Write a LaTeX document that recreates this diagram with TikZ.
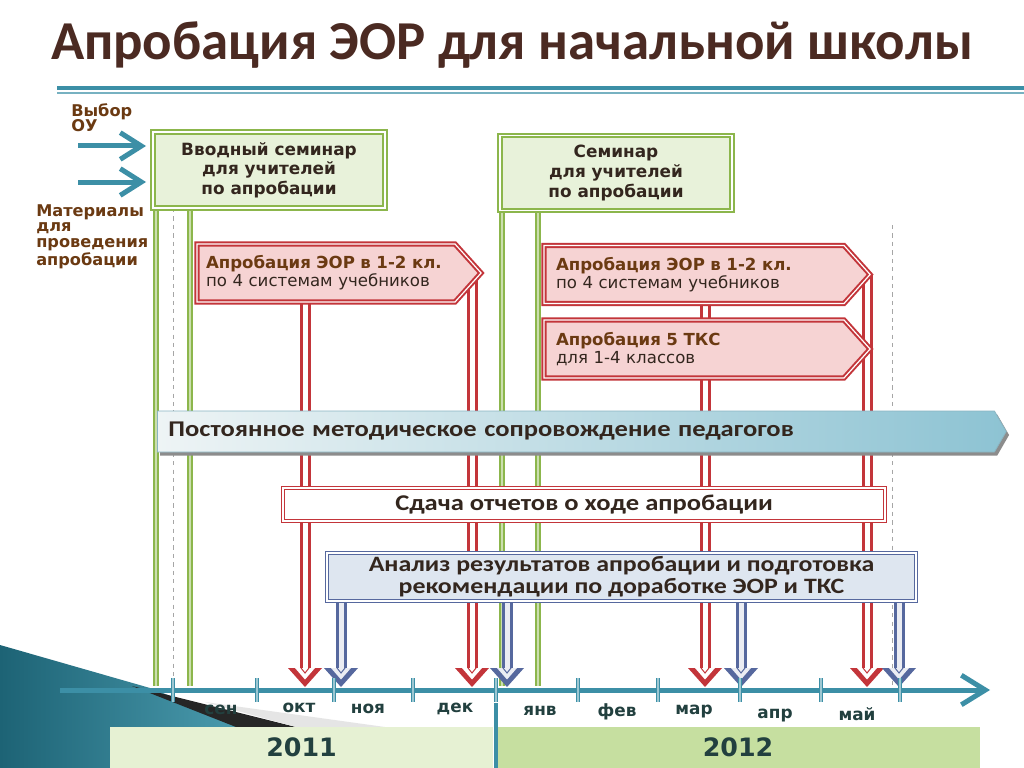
\documentclass[tikz,border=0pt]{standalone}
\usepackage{fontspec}
\setmainfont{DejaVu Sans}
\newfontfamily\titlefont{Carlito}
\newfontfamily\narrowfont[FakeStretch=1.18]{Carlito}
\usetikzlibrary{shapes.symbols,shadows,backgrounds,arrows.meta}

\newlength\pxu
\setlength\pxu{0.025cm}

\definecolor{titlebrown}{HTML}{4B2A22}
\definecolor{labelbrown}{HTML}{6B3A12}
\definecolor{darktext}{HTML}{33261E}
\definecolor{tealline}{HTML}{3C8FA6}
\definecolor{semgreen}{HTML}{8CB64C}
\definecolor{semfill}{HTML}{E8F2DA}
\definecolor{aprred}{HTML}{C3353A}
\definecolor{aprfill}{HTML}{F6D3D3}
\definecolor{anblue}{HTML}{56689E}
\definecolor{anfill}{HTML}{DEE6F0}
\definecolor{monthtext}{HTML}{22403F}
\definecolor{yearlight}{HTML}{E6F1D3}
\definecolor{yeardark}{HTML}{C6DFA0}
\definecolor{supleft}{HTML}{EEF4F5}
\definecolor{supright}{HTML}{8DC3D3}
\definecolor{swdark}{HTML}{1D6375}
\definecolor{swlight}{HTML}{4C9DB0}

\begin{document}
\begin{tikzpicture}[x=0.025cm,y=-0.025cm]
        \tikzstyle{seminar}=[rectangle,draw=semgreen,line width=2\pxu,double=white,double distance=1.2\pxu,fill=semfill,align=center,text=darktext,font=\bfseries\fontsize{12}{14}\selectfont,inner sep=0pt]
        \tikzstyle{aprob}=[signal,signal to=east,signal pointer angle=96,draw=aprred,line width=2\pxu,double=white,double distance=1.2\pxu,fill=aprfill,align=left,text=darktext,font=\fontsize{11.8}{12.8}\selectfont,inner xsep=12\pxu,inner ysep=0pt,minimum height=58\pxu,anchor=west]
        \tikzstyle{sidelabel}=[align=left,text=labelbrown,font=\bfseries\fontsize{11.5}{11.3}\selectfont,anchor=north west,inner sep=0pt]
        \tikzstyle{wide}=[text=darktext,font=\narrowfont\bfseries\fontsize{16}{14.2}\selectfont,inner sep=0pt]
        \tikzstyle{month}=[text=monthtext,font=\bfseries\fontsize{12}{12}\selectfont,inner sep=0pt]
        \tikzstyle{year}=[rectangle,minimum height=41\pxu,inner sep=0pt,text=monthtext,font=\bfseries\fontsize{18}{20}\selectfont]
        \tikzstyle{inarrow}=[draw=tealline,line width=5\pxu,-{Straight Barb[length=15pt,width=19pt]},shorten >=6\pxu]
        \tikzstyle{greenline}=[draw=semgreen,line width=2\pxu,double=semgreen!45!white,double distance=1.2\pxu]
        \tikzstyle{redpipe}=[draw=aprred,line width=3\pxu,double=white,double distance=5\pxu]
        \tikzstyle{bluepipe}=[draw=anblue,line width=3\pxu,double=anblue!12!white,double distance=5\pxu]
        \tikzstyle{guide}=[draw=gray!70,dashed,line width=0.9\pxu]
        \tikzstyle{tick}=[draw=tealline,line width=1.6\pxu,double=tealline!50!white,double distance=1.4\pxu]

        \useasboundingbox (0,0) rectangle (1024,768);

        % title and rule
        \node[text=titlebrown,font=\titlefont\bfseries\fontsize{39}{40}\selectfont,inner sep=0pt] (title) at (512,45) {Апробация ЭОР для начальной школы};
        \draw[tealline,line width=4\pxu] (57,88) -- (1024,88);
        \draw[tealline!70!white,line width=1.5\pxu] (57,93) -- (1024,93);

        % inputs on the left
        \node[sidelabel] (vybor) at (71,103) {Выбор\\ОУ};
        \node[sidelabel] (mater) at (36,204) {Материалы\\для\\проведения\\апробации};

        % seminars
        \node[seminar,minimum width=232\pxu,minimum height=76\pxu] (sem1) at (269,170) {Вводный семинар\\для учителей\\по апробации};
        \node[seminar,minimum width=232\pxu,minimum height=75\pxu] (sem2) at (616,173) {Семинар\\для учителей\\по апробации};

        \coordinate (in1) at (78,146);
        \coordinate (in2) at (78,182);
        \draw[inarrow] (in1) -- (sem1.west |- in1);
        \draw[inarrow] (in2) -- (sem1.west |- in2);

        % approbation stages
        \node[aprob,text width=240\pxu,inner xsep=9\pxu] (apr1) at (196,273) {{\bfseries\color{labelbrown}Апробация ЭОР в 1-2 кл.}\\по 4 системам учебников};
        \node[aprob,text width=276\pxu] (apr2) at (543,274.5) {{\bfseries\color{labelbrown}Апробация ЭОР в 1-2 кл.}\\по 4 системам учебников};
        \node[aprob,text width=276\pxu] (apr3) at (543,349) {{\bfseries\color{labelbrown}Апробация 5 ТКС}\\для 1-4 классов};

        % long banner, reports, analysis
        \node[wide,signal,signal to=east,signal pointer angle=120,left color=supleft,right color=supright,draw=supright!80!gray,line width=0.8\pxu,
              drop shadow={shadow xshift=2pt,shadow yshift=-2.5pt,fill=black!45,opacity=1},
              minimum height=41\pxu,text width=815\pxu,inner xsep=11\pxu,inner ysep=0pt,align=left,anchor=west] (support) at (157,431.5)
              {Постоянное методическое сопровождение педагогов};
        \node[wide,rectangle,draw=aprred,line width=1.3\pxu,double=white,double distance=1.2\pxu,fill=white,minimum width=602\pxu,minimum height=33\pxu] (report) at (584,504.5) {Сдача отчетов о ходе апробации};
        \node[wide,font=\narrowfont\bfseries\fontsize{15.6}{15.6}\selectfont,rectangle,draw=anblue,line width=1.5\pxu,double=white,double distance=1.2\pxu,fill=anfill,minimum width=589\pxu,minimum height=48\pxu,align=center] (analysis) at (621.5,577) {Анализ результатов апробации и подготовка\\рекомендации по доработке ЭОР и ТКС};

        % arrow ends on the time axis
        \foreach \num/\x in {1/305, 2/472, 3/705, 4/867}
                \coordinate (R-\num) at (\x,668);
        \foreach \num/\x in {1/341, 2/507, 3/741, 4/899}
                \coordinate (B-\num) at (\x,668);
        \foreach \num/\x in {1/156, 2/190, 3/502, 4/538}
                \coordinate (G-\num) at (\x,686);

        \begin{scope}[on background layer]
                \fill[white] (0,0) rectangle (1024,768);
                % corner decoration
                \shade[left color=swdark,right color=swlight] (0,645) -- (150,688) -- (250,727) -- (110,727) -- (110,768) -- (0,768) -- cycle;
                \fill[black!85] (132,686) -- (296,727) -- (236,727) -- cycle;
                \fill[gray!20] (205,702) -- (385,727) -- (296,727) -- cycle;

                \draw[guide] (173,208) -- (173,702);
                \draw[guide] (892,225) -- (892,690);

                \draw[greenline] (sem1.south -| G-1) -- (G-1);
                \draw[greenline] (sem1.south -| G-2) -- (G-2);
                \draw[greenline] (sem2.south -| G-3) -- (G-3);
                \draw[greenline] (sem2.south -| G-4) -- (G-4);

                \draw[redpipe] (apr1.south -| R-1) -- (R-1);
                \draw[redpipe] (apr1.east -| R-2) -- (R-2);
                \draw[redpipe] (apr2.south -| R-3) -- (R-3);
                \draw[redpipe] (apr2.east -| R-4) -- (R-4);

                \foreach \num in {1,2,3,4}
                        \draw[bluepipe] (analysis.south -| B-\num) -- (B-\num);
        \end{scope}

        % arrow heads
        \foreach \num in {1,2,3,4} {
                \fill[aprred,shift={(R-\num)}] (-17,0) -- (17,0) -- (0,19) -- cycle;
                \fill[white,shift={(R-\num)}] (-10,0) -- (10,0) -- (0,11.5) -- cycle;
                \draw[aprred,line width=1\pxu,shift={(R-\num)}] (-4,0) -- (0,5) -- (4,0);
                \fill[anblue,shift={(B-\num)}] (-17,0) -- (17,0) -- (0,19) -- cycle;
                \fill[anblue!12!white,shift={(B-\num)}] (-10,0) -- (10,0) -- (0,11.5) -- cycle;
                \draw[anblue,line width=1\pxu,shift={(B-\num)}] (-4,0) -- (0,5) -- (4,0);
        }

        % time axis
        \coordinate (ax0) at (60,690);
        \coordinate (ax1) at (990,690);
        \draw[tealline,line width=5\pxu,-{Straight Barb[length=17pt,width=21pt]}] (ax0) -- (ax1);
        \foreach \x in {173,257,334,413,496,578,658,740,821,900}
                \draw[tick] (\x,678) -- (\x,702);

        \foreach \m/\x/\y in {сен/221/710, окт/299/708, ноя/368/709, дек/455/709, янв/540/711, фев/617/712, мар/694/712, апр/775/716, май/857/714}
                \node[month] (m-\x) at (\x,\y) {\m};

        % years
        \node[year,fill=yearlight,minimum width=383\pxu] (y2011) at (301.5,747.5) {2011};
        \node[year,fill=yeardark,minimum width=484\pxu] (y2012) at (738,747.5) {2012};
        \draw[tealline,line width=4\pxu] (496,703) -- (496,768);
\end{tikzpicture}
\end{document}
